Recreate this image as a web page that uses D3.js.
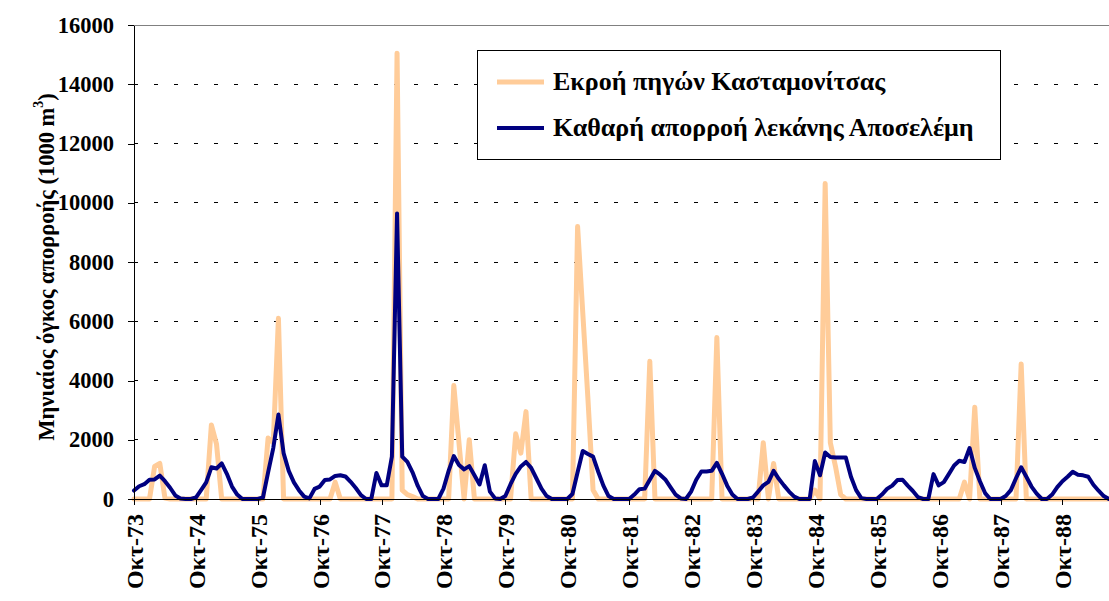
<!DOCTYPE html>
<html>
<head>
<meta charset="utf-8">
<script src="https://cdn.jsdelivr.net/npm/d3@7"></script>
<style>
  body { margin: 0; background: #fff; }
  svg text { font-family: "Liberation Serif", "Times New Roman", serif; font-weight: bold; }
</style>
</head>
<body>
<svg id="chart" width="1109" height="601"></svg>
<script>
// monthly values, Oct-73 .. Sep-89 (one row per hydrological year)
const springOutflow = [
  0, 0, 0, 0, 1100, 1200, 30, 0, 0, 0, 0, 0,
  0, 0, 0, 2500, 1850, 0, 0, 0, 0, 0, 0, 0,
  0, 0, 2060, 1900, 6100, 0, 0, 0, 0, 0, 0, 0,
  0, 0, 0, 570, 0, 0, 0, 0, 0, 0, 0, 0,
  0, 0, 0, 15050, 300, 150, 80, 0, 0, 0, 0, 0,
  0, 0, 3830, 1900, 0, 2000, 0, 0, 0, 0, 0, 0,
  0, 0, 2200, 1550, 2950, 0, 0, 0, 0, 0, 0, 0,
  0, 0, 9200, 6300, 3400, 300, 0, 0, 0, 0, 0, 0,
  0, 0, 0, 0, 4650, 0, 0, 0, 0, 0, 0, 0,
  0, 0, 0, 0, 0, 5450, 0, 0, 0, 0, 0, 0,
  0, 0, 1900, 0, 1200, 0, 0, 0, 0, 0, 0, 0,
  300, 0, 10650, 1900, 1100, 150, 0, 0, 0, 0, 0, 0,
  0, 0, 0, 0, 0, 0, 0, 0, 0, 0, 0, 0,
  0, 0, 0, 0, 0, 570, 0, 3100, 0, 0, 0, 0,
  0, 0, 0, 0, 4560, 0, 0, 0, 0, 0, 0, 0,
  0, 0, 0, 0, 0, 0, 0, 0, 0, 0, 0, 0
];

const basinRunoff = [
  285, 430, 500, 650, 660, 790, 600, 380, 120, 20, 0, 0,
  50, 300, 560, 1070, 1030, 1200, 850, 420, 150, 0, 0, 0,
  0, 50, 900, 1720, 2850, 1550, 950, 560, 290, 80, 20, 340,
  420, 640, 660, 780, 800, 760, 580, 370, 130, 0, 0, 880,
  460, 460, 1430, 9640, 1430, 1250, 900, 450, 100, 0, 0, 0,
  350, 950, 1450, 1150, 1000, 1110, 800, 490, 1140, 250, 20, 0,
  100, 500, 850, 1100, 1250, 1050, 700, 350, 100, 0, 0, 0,
  0, 170, 900, 1620, 1520, 1430, 920, 450, 100, 0, 0, 0,
  0, 150, 330, 350, 650, 950, 820, 660, 400, 150, 20, 0,
  250, 650, 930, 930, 950, 1220, 850, 450, 150, 0, 0, 0,
  50, 250, 460, 580, 950, 680, 460, 250, 80, 0, 0, 0,
  1280, 800, 1570, 1420, 1400, 1400, 1400, 750, 300, 30, 0, 0,
  0, 150, 340, 450, 640, 650, 450, 270, 60, 0, 0, 840,
  460, 570, 850, 1130, 1290, 1250, 1720, 1050, 600, 200, 0, 0,
  0, 100, 300, 700, 1070, 750, 420, 180, 0, 0, 150, 400,
  600, 750, 920, 820, 800, 750, 480, 280, 100, 0, 0, 0
];

const xLabels = ["Οκτ-73", "Οκτ-74", "Οκτ-75", "Οκτ-76", "Οκτ-77", "Οκτ-78", "Οκτ-79", "Οκτ-80",
                 "Οκτ-81", "Οκτ-82", "Οκτ-83", "Οκτ-84", "Οκτ-85", "Οκτ-86", "Οκτ-87", "Οκτ-88"];
const yTicks = [0, 2000, 4000, 6000, 8000, 10000, 12000, 14000, 16000];
const seriesNames = ["Εκροή πηγών Κασταμονίτσας", "Καθαρή απορροή λεκάνης Αποσελέμη"];
const seriesColors = ["#ffcc99", "#000080"];

const svg = d3.select('#chart');

const plot = {left: 134, top: 25, bottom: 499, monthW: 5.158};
const x = d3.scaleLinear()
    .domain([0, basinRunoff.length - 1])
    .range([plot.left, plot.left + (basinRunoff.length - 1) * plot.monthW]);
const y = d3.scaleLinear().domain([0, 16000]).range([plot.bottom, plot.top]);
const xRight = x(basinRunoff.length - 1);

// gridlines
svg.append('g')
  .selectAll('line')
  .data(yTicks.filter(d => d > 0 && d < 16000))
  .enter().append('line')
    .attr('x1', plot.left).attr('x2', xRight)
    .attr('y1', d => y(d)).attr('y2', d => y(d))
    .attr('stroke', '#000')
    .attr('stroke-width', 1)
    .attr('stroke-dasharray', '4,16')
    .attr('shape-rendering', 'crispEdges');

// plot area top border
svg.append('line')
  .attr('x1', plot.left).attr('x2', xRight)
  .attr('y1', y(16000)).attr('y2', y(16000))
  .attr('stroke', '#808080')
  .attr('shape-rendering', 'crispEdges');

// lines
let line = d3.line().x((d, i) => x(i)).y(d => y(d));
[springOutflow, basinRunoff].forEach((s, idx) => {
  svg.append('path')
    .datum(s)
    .attr('fill', 'none')
    .attr('stroke', seriesColors[idx])
    .attr('stroke-width', idx === 0 ? 5 : 4)
    .attr('stroke-linejoin', 'round')
    .attr('stroke-linecap', 'round')
    .attr('d', line);
});

// y axis
let yAxis = svg.append('g')
    .attr('transform', 'translate(' + plot.left + ',0)')
    .call(d3.axisLeft(y).tickValues(yTicks).tickFormat(d => String(d))
      .tickSize(6).tickSizeOuter(0).tickPadding(14));
yAxis.select('.domain').attr('stroke', '#000').attr('shape-rendering', 'crispEdges');
yAxis.selectAll('.tick line').attr('stroke', '#000').attr('shape-rendering', 'crispEdges');
yAxis.selectAll('text').attr('font-size', 22.5).attr('fill', '#000')
  .attr('font-family', '"Liberation Serif", serif').attr('font-weight', 'bold');

// x axis
let xAxis = svg.append('g')
    .attr('transform', 'translate(0,' + plot.bottom + ')')
    .call(d3.axisBottom(x)
      .tickValues(xLabels.map((d, i) => i * 12))
      .tickFormat((d, i) => xLabels[i])
      .tickSize(6).tickSizeOuter(0));
xAxis.select('.domain').attr('stroke', '#000').attr('shape-rendering', 'crispEdges');
xAxis.selectAll('.tick line').attr('stroke', '#000').attr('shape-rendering', 'crispEdges');
xAxis.selectAll('text')
  .attr('font-size', 24).attr('fill', '#000')
  .attr('font-family', '"Liberation Serif", serif').attr('font-weight', 'bold')
  .attr('text-anchor', 'end')
  .attr('transform', 'rotate(-90)')
  .attr('x', -15).attr('y', 0).attr('dy', '0.35em');

// y title
let yTitle = svg.append('text')
  .attr('transform', 'translate(54,267) rotate(-90)')
  .attr('text-anchor', 'middle')
  .attr('font-size', 22.5)
  .attr('fill', '#000');
yTitle.append('tspan').text('Μηνιαίος όγκος απορροής (1000 m');
yTitle.append('tspan').attr('font-size', 14).attr('dy', '-0.8em').text('3');
yTitle.append('tspan').attr('dy', '0.5em').text(')');

// legend
let legend = svg.append('g').attr('class', 'legend');
legend.append('rect')
  .attr('x', 477.5).attr('y', 50.5)
  .attr('width', 523).attr('height', 109)
  .attr('fill', '#fff').attr('stroke', '#000');
seriesNames.forEach((name, idx) => {
  let ly = 82 + idx * 46;
  legend.append('line')
    .attr('x1', 497).attr('x2', 544)
    .attr('y1', ly).attr('y2', ly)
    .attr('stroke', seriesColors[idx])
    .attr('stroke-width', idx === 0 ? 5 : 4);
  legend.append('text')
    .attr('x', 553).attr('y', ly + 8)
    .attr('font-size', 26)
    .attr('fill', '#000')
    .text(name);
});
</script>
</body>
</html>
